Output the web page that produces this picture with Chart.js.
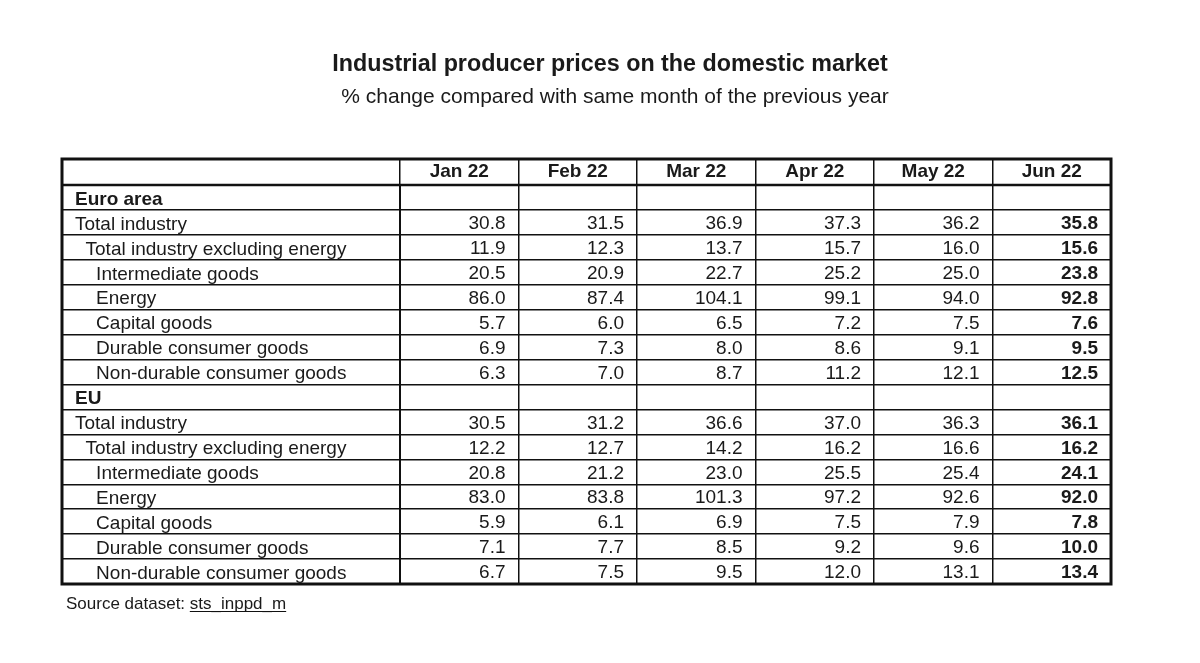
<!DOCTYPE html>
<html>
<head>
<meta charset="utf-8">
<script src="https://cdn.jsdelivr.net/npm/chart.js@4.4.1/dist/chart.umd.min.js"></script>
<style>
    html, body { margin: 0; padding: 0; background: #fff; }
</style>
</head>
<body>
<canvas id="tabela" width="1200" height="663"></canvas>
<script>
const months = ['Jan 22', 'Feb 22', 'Mar 22', 'Apr 22', 'May 22', 'Jun 22'];
const regions = ['Euro area', 'EU'];
const sectors = [
    'Total industry',
    'Total industry excluding energy',
    'Intermediate goods',
    'Energy',
    'Capital goods',
    'Durable consumer goods',
    'Non-durable consumer goods'
];
const sectorIndent = [0, 1, 2, 2, 2, 2, 2];

// % change, same month of previous year
const euroArea = [
    [30.8, 31.5, 36.9, 37.3, 36.2, 35.8],
    [11.9, 12.3, 13.7, 15.7, 16.0, 15.6],
    [20.5, 20.9, 22.7, 25.2, 25.0, 23.8],
    [86.0, 87.4, 104.1, 99.1, 94.0, 92.8],
    [5.7, 6.0, 6.5, 7.2, 7.5, 7.6],
    [6.9, 7.3, 8.0, 8.6, 9.1, 9.5],
    [6.3, 7.0, 8.7, 11.2, 12.1, 12.5]
];
const eu = [
    [30.5, 31.2, 36.6, 37.0, 36.3, 36.1],
    [12.2, 12.7, 14.2, 16.2, 16.6, 16.2],
    [20.8, 21.2, 23.0, 25.5, 25.4, 24.1],
    [83.0, 83.8, 101.3, 97.2, 92.6, 92.0],
    [5.9, 6.1, 6.9, 7.5, 7.9, 7.8],
    [7.1, 7.7, 8.5, 9.2, 9.6, 10.0],
    [6.7, 7.5, 9.5, 12.0, 13.1, 13.4]
];

const FONT = '"Liberation Sans", Arial, sans-serif';
const TEXT = '#1a1a1a';
const LINE = '#111111';
const LABEL_COL = 338;   // width of the label column
const CELL_PAD = 13;     // right padding of numbers

// one row per region heading + one per sector
const rowLabels = [];
const rowIndent = [];
const rowValues = [];
[euroArea, eu].forEach((valores, g) => {
    rowLabels.push(regions[g]);
    rowIndent.push(-1);
    rowValues.push(null);
    sectors.forEach((s, i) => {
        rowLabels.push(s);
        rowIndent.push(sectorIndent[i]);
        rowValues.push(valores[i]);
    });
});

const datasets = months.map((m, c) => ({
    label: m,
    data: rowValues
        .map((vals, r) => vals ? { x: c, y: r, v: vals[c] } : null)
        .filter(p => p !== null),
    pointRadius: 0,
    pointHoverRadius: 0
}));

const tablePlugin = {
    id: 'tablePlugin',
    afterDraw(chart) {
        const ctx = chart.ctx;
        const area = chart.chartArea;
        const xs = chart.scales.x;
        const half = (xs.getPixelForValue(1) - xs.getPixelForValue(0)) / 2;
        const left = area.left - LABEL_COL;
        const top = xs.top;

        ctx.save();
        // numbers
        ctx.fillStyle = TEXT;
        ctx.textAlign = 'right';
        ctx.textBaseline = 'middle';
        chart.data.datasets.forEach((ds, c) => {
            const meta = chart.getDatasetMeta(c);
            ctx.font = (c === months.length - 1 ? 'bold ' : '') + '19px ' + FONT;
            meta.data.forEach((pt, i) => {
                ctx.fillText(ds.data[i].v.toFixed(1), pt.x + half - CELL_PAD, pt.y + 1.5);
            });
        });

        // header separator and outer frame
        ctx.strokeStyle = LINE;
        ctx.lineWidth = 2.5;
        ctx.beginPath();
        ctx.moveTo(left, area.top);
        ctx.lineTo(area.right, area.top);
        ctx.stroke();
        ctx.lineWidth = 3;
        ctx.strokeRect(left, top, area.right - left, area.bottom - top);

        // title
        ctx.textAlign = 'center';
        ctx.font = 'bold 23.3px ' + FONT;
        ctx.fillText('Industrial producer prices on the domestic market', 610, 65);
        ctx.font = '21px ' + FONT;
        ctx.fillText('% change compared with same month of the previous year', 615, 97);

        // source
        ctx.textAlign = 'left';
        ctx.font = '17px ' + FONT;
        const fonte = 'Source dataset: ';
        const link = 'sts_inppd_m';
        ctx.fillText(fonte, 66, 604);
        const x0 = 66 + ctx.measureText(fonte).width;
        ctx.fillText(link, x0, 604);
        const w = ctx.measureText(link).width;
        ctx.lineWidth = 1;
        ctx.beginPath();
        ctx.moveTo(x0, 611.5);
        ctx.lineTo(x0 + w, 611.5);
        ctx.stroke();
        ctx.restore();
    }
};

const ctx = document.getElementById('tabela').getContext('2d');
const tabela = new Chart(ctx, {
    type: 'scatter',
    data: { datasets: datasets },
    options: {
        responsive: false,
        animation: false,
        parsing: false,
        events: [],
        layout: {
            padding: { top: 159, left: 75, right: 89, bottom: 79 }
        },
        plugins: {
            legend: { display: false },
            tooltip: { enabled: false }
        },
        scales: {
            x: {
                type: 'category',
                labels: months,
                position: 'top',
                offset: true,
                grid: { offset: true, color: LINE, lineWidth: 1.5, tickLength: 26 },
                border: { display: true, color: LINE, width: 2 },
                ticks: {
                    color: TEXT,
                    font: { family: FONT, size: 19, weight: 'bold' },
                    padding: -24,
                    maxRotation: 0,
                    autoSkip: false
                },
                afterFit: function(scale) { scale.height = 26; }
            },
            y: {
                type: 'category',
                labels: rowLabels,
                offset: true,
                grid: { offset: true, color: LINE, lineWidth: 1.5, tickLength: LABEL_COL },
                border: { display: true, color: LINE, width: 2 },
                ticks: {
                    color: TEXT,
                    crossAlign: 'far',
                    autoSkip: false,
                    labelOffset: 2,
                    font: function(context) {
                        return {
                            family: FONT,
                            size: 19,
                            weight: rowIndent[context.index] < 0 ? 'bold' : 'normal'
                        };
                    },
                    callback: function(value, index) {
                        const ind = Math.max(rowIndent[index], 0);
                        return ' '.repeat(ind * 2) + rowLabels[index];
                    }
                },
                afterFit: function(scale) { scale.width = LABEL_COL - 13; }
            }
        }
    },
    plugins: [tablePlugin]
});
</script>
</body>
</html>
